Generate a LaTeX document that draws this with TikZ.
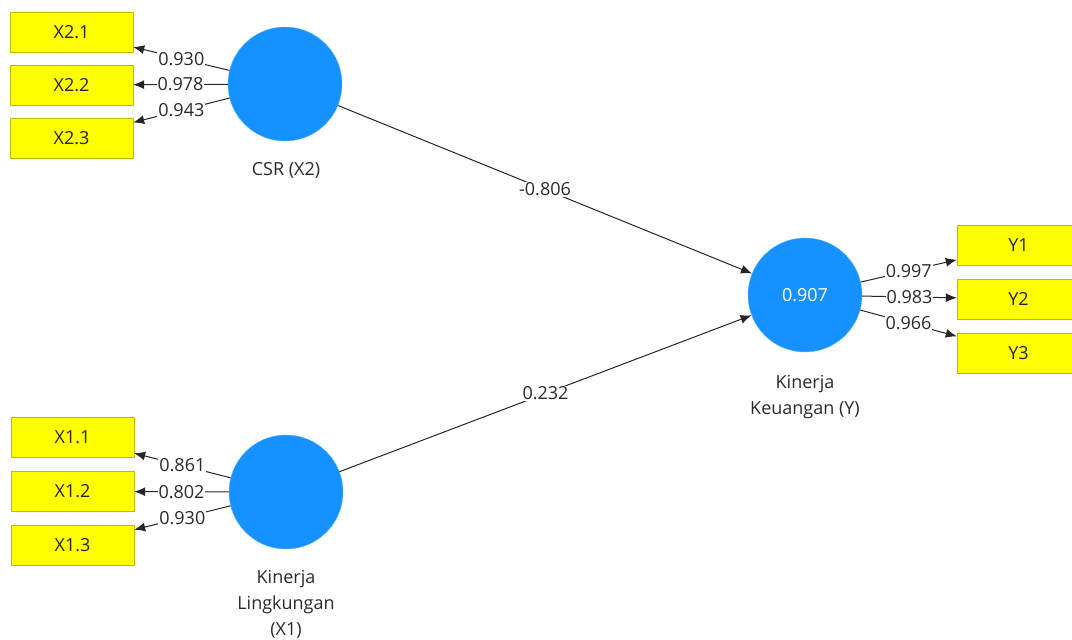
\documentclass[tikz,border=0pt]{standalone}
\usepackage{fontspec}
\setmainfont{Open Sans}
\usetikzlibrary{arrows.meta}
\definecolor{lvblue}{HTML}{1592FF}
\definecolor{indfill}{HTML}{FFFF00}
\definecolor{indborder}{HTML}{BDBD00}
\definecolor{txt}{HTML}{2A2A2A}
\begin{document}
\begin{tikzpicture}[x=1pt,y=-1pt, font=\fontsize{18}{21}\selectfont,
 lv/.style={circle, fill=lvblue, draw=lvblue!70!white, minimum size=114pt, inner sep=0pt, text=white},
 indbox/.style={rectangle, fill=indfill, draw=indborder, minimum width=123pt, minimum height=40pt, inner sep=0pt, text=black!85},
 ld/.style={draw=black!85, line width=1pt, -{Latex[length=11pt,width=9pt]}},
 lbl/.style={fill=white, inner sep=1pt, text=txt, pos=0.5},
 lvname/.style={align=center, text=txt, font=\fontsize{18}{26}\selectfont}]
\useasboundingbox (0,0) rectangle (1072,640);
% latent variables
\node[lv] (csr) at (285,84) {};
\node[lv] (kl) at (286,492) {};
\node[lv] (ky) at (805,295) {0.907};
\node[lvname] (csrname) at (286,170) {CSR (X2)};
\node[lvname] (klname) at (286,604) {Kinerja\\Lingkungan\\(X1)};
\node[lvname] (kyname) at (805,397) {Kinerja\\Keuangan (Y)};
% indicators
\node[indbox] (x21) at (71.5,32) {X2.1};
\node[indbox] (x22) at (71.5,85) {X2.2};
\node[indbox] (x23) at (71.5,138) {X2.3};
\node[indbox] (x11) at (72.5,437.5) {X1.1};
\node[indbox] (x12) at (72.5,491.5) {X1.2};
\node[indbox] (x13) at (72.5,545) {X1.3};
\node[indbox] (y1) at (1018.5,245.5) {Y1};
\node[indbox] (y2) at (1018.5,299) {Y2};
\node[indbox] (y3) at (1018.5,353) {Y3};
% loadings
\draw[ld] (csr) -- node[lbl] {0.930} (x21);
\draw[ld] (csr) -- node[lbl] {0.978} (x22);
\draw[ld] (csr) -- node[lbl] {0.943} (x23);
\draw[ld] (kl) -- node[lbl] {0.861} (x11);
\draw[ld] (kl) -- node[lbl] {0.802} (x12);
\draw[ld] (kl) -- node[lbl] {0.930} (x13);
\draw[ld] (ky) -- node[lbl] {0.997} (y1);
\draw[ld] (ky) -- node[lbl] {0.983} (y2);
\draw[ld] (ky) -- node[lbl] {0.966} (y3);
% paths
\draw[ld] (csr) -- node[lbl] {-0.806} (ky);
\draw[ld] (kl) -- node[lbl] {0.232} (ky);
\end{tikzpicture}
\end{document}
